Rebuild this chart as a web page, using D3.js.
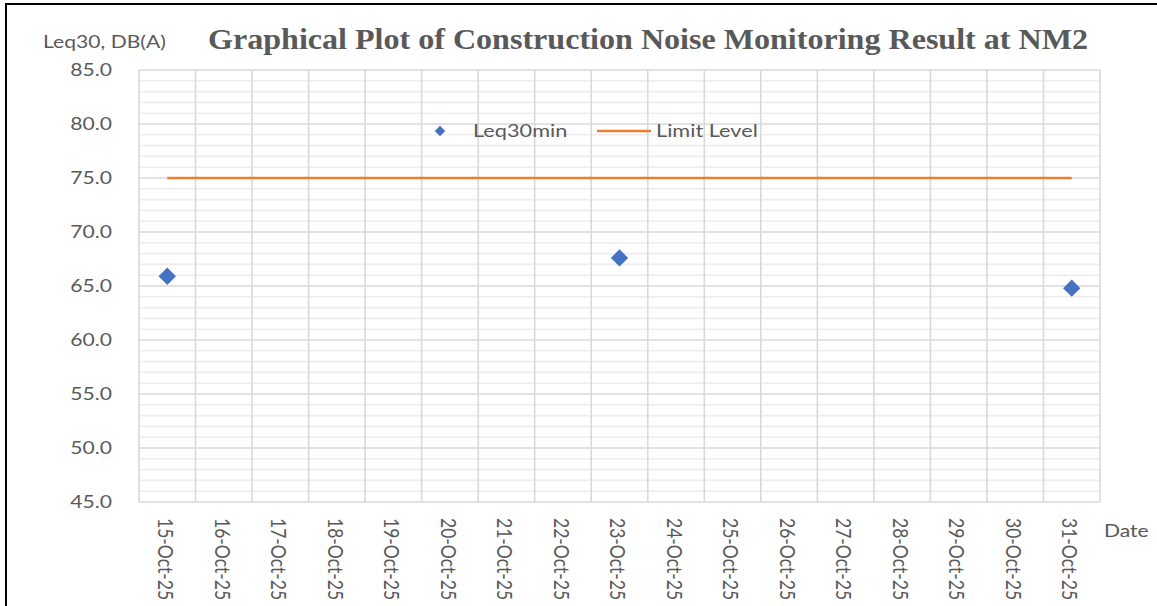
<!DOCTYPE html>
<html>
<head>
<meta charset="utf-8">
<script src="https://cdn.jsdelivr.net/npm/d3@7"></script>
<style>
  html, body { margin: 0; padding: 0; background: #fff; }
  svg { display: block; }
</style>
</head>
<body>
<script>
// Monitoring dates (category axis)
const dates = ["15-Oct-25","16-Oct-25","17-Oct-25","18-Oct-25","19-Oct-25","20-Oct-25",
  "21-Oct-25","22-Oct-25","23-Oct-25","24-Oct-25","25-Oct-25","26-Oct-25","27-Oct-25",
  "28-Oct-25","29-Oct-25","30-Oct-25","31-Oct-25"];
// Measured Leq30min, dB(A); null where no measurement was taken
const leq30 = [65.9,null,null,null,null,null,null,null,67.6,null,null,null,null,null,null,null,64.8];
// Construction noise limit level, dB(A)
const limitLevel = dates.map(() => 75);
// Value axis
const yTicks = [45,50,55,60,65,70,75,80,85];

const W = 1157, H = 606;
const plot = { left: 139, right: 1100, top: 70, bottom: 502 };
const textColor = "#595959";
const sans = "Lato, 'Open Sans', sans-serif";
const stretch = 1.24;

const svg = d3.select("body").append("svg").attr("width", W).attr("height", H);

// Outer frame (top and left edges)
svg.append("line").attr("x1", 5).attr("x2", W).attr("y1", 4).attr("y2", 4)
  .attr("stroke", "#000").attr("stroke-width", 2);
svg.append("line").attr("x1", 6).attr("x2", 6).attr("y1", 4).attr("y2", H)
  .attr("stroke", "#000").attr("stroke-width", 2);

const x = d3.scaleBand().domain(dates).range([plot.left, plot.right]).padding(0);
const y = d3.scaleLinear().domain([45, 85]).range([plot.bottom, plot.top]);

const grid = svg.append("g");
// Minor horizontal gridlines every 1 unit
grid.selectAll("line.minor").data(d3.range(46, 85).filter(v => v % 5 !== 0)).join("line")
  .attr("class", "minor")
  .attr("x1", plot.left).attr("x2", plot.right)
  .attr("y1", d => y(d)).attr("y2", d => y(d))
  .attr("stroke", "#EDEDED").attr("stroke-width", 1.6);
// Major horizontal gridlines
grid.selectAll("line.major").data(yTicks).join("line")
  .attr("class", "major")
  .attr("x1", plot.left).attr("x2", plot.right)
  .attr("y1", d => y(d)).attr("y2", d => y(d))
  .attr("stroke", "#D9D9D9").attr("stroke-width", 1.6);
// Vertical gridlines at category boundaries
grid.selectAll("line.vert").data(dates.concat(["__end"])).join("line")
  .attr("class", "vert")
  .attr("x1", d => d === "__end" ? plot.right : x(d))
  .attr("x2", d => d === "__end" ? plot.right : x(d))
  .attr("y1", plot.top).attr("y2", plot.bottom)
  .attr("stroke", "#D9D9D9").attr("stroke-width", 1.6);

// Horizontal stretch for sans text
function widen(sel) {
  sel.each(function() {
    const len = this.getComputedTextLength();
    d3.select(this).attr("textLength", len * stretch).attr("lengthAdjust", "spacingAndGlyphs");
  });
}

// Y axis
const yAxis = svg.append("g").attr("transform", `translate(${plot.left},0)`)
  .call(d3.axisLeft(y).tickValues(yTicks).tickFormat(d3.format(".1f")).tickSize(0).tickPadding(27));
yAxis.select(".domain").remove();
yAxis.selectAll("text").attr("fill", textColor).style("font-family", sans).style("font-size", "17px")
  .call(widen);

// X axis with vertical labels (glyphs widened across the screen's horizontal direction)
const xAxis = svg.append("g").attr("transform", `translate(0,${plot.bottom})`)
  .call(d3.axisBottom(x).tickSize(0));
xAxis.select(".domain").remove();
xAxis.selectAll("text")
  .attr("fill", textColor).style("font-family", sans).style("font-size", "17.5px")
  .attr("text-anchor", "start")
  .attr("dy", null).attr("y", 0).attr("x", 0)
  .attr("transform", `translate(-1,16) rotate(90) scale(1,${stretch})`)
  .attr("dominant-baseline", "central");

// Limit level line
const lineGen = d3.line().x((d, i) => x(dates[i]) + x.bandwidth() / 2).y(d => y(d));
svg.append("path").datum(limitLevel).attr("d", lineGen)
  .attr("fill", "none").attr("stroke", "#ED7D31").attr("stroke-width", 2.6);

// Leq30min markers
const diamond = d3.symbol(d3.symbolSquare, 150);
svg.append("g").selectAll("path").data(dates.map((d, i) => ({ d, v: leq30[i] })).filter(p => p.v != null))
  .join("path")
  .attr("d", diamond)
  .attr("transform", p => `translate(${x(p.d) + x.bandwidth() / 2},${y(p.v)}) rotate(45)`)
  .attr("fill", "#4472C4");

// Legend
const legend = svg.append("g");
legend.append("path").attr("d", d3.symbol(d3.symbolSquare, 55)())
  .attr("transform", "translate(440,131) rotate(45)").attr("fill", "#4472C4");
legend.append("text").attr("x", 473).attr("y", 137).text("Leq30min")
  .attr("fill", textColor).style("font-family", sans).style("font-size", "17.5px").call(widen);
legend.append("line").attr("x1", 597).attr("x2", 651).attr("y1", 131).attr("y2", 131)
  .attr("stroke", "#ED7D31").attr("stroke-width", 2.6);
legend.append("text").attr("x", 656).attr("y", 137).text("Limit Level")
  .attr("fill", textColor).style("font-family", sans).style("font-size", "17.5px").call(widen);

// Axis titles
svg.append("text").attr("x", 43).attr("y", 48).text("Leq30, DB(A)")
  .attr("fill", textColor).style("font-family", sans).style("font-size", "17px").call(widen);
svg.append("text").attr("x", 1104).attr("y", 537).text("Date")
  .attr("fill", textColor).style("font-family", sans).style("font-size", "17px").call(widen);

// Chart title
svg.append("text").attr("x", 208).attr("y", 49)
  .text("Graphical Plot of Construction Noise Monitoring Result at NM2")
  .attr("fill", textColor)
  .style("font-family", "'Liberation Serif', 'Times New Roman', serif")
  .style("font-weight", "bold").style("font-size", "30px")
  .attr("textLength", 880).attr("lengthAdjust", "spacingAndGlyphs");
</script>
</body>
</html>
